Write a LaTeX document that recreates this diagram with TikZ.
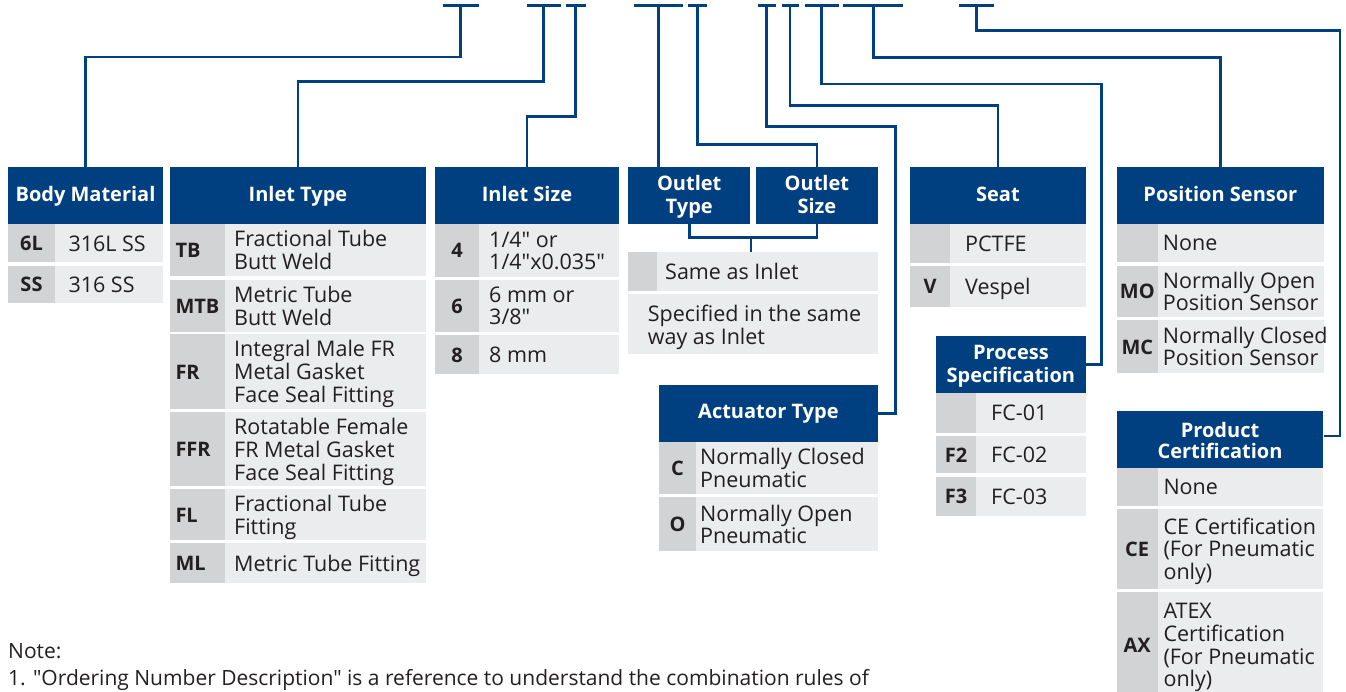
\documentclass[tikz,border=0pt]{standalone}
\usepackage{fontspec}
\setmainfont{Open Sans}
\newfontfamily\osans{Open Sans}
\definecolor{hblue}{RGB}{0,64,128}
\definecolor{rowg}{RGB}{235,236,238}
\definecolor{codeg}{RGB}{210,211,213}
\definecolor{ink}{RGB}{35,31,32}
\newcommand\mlines[1]{\begin{tabular}{@{}l@{}}#1\end{tabular}}
\newcommand\clines[1]{\begin{tabular}{@{}c@{}}#1\end{tabular}}
\newcommand\myrow[9]{%
  \fill[rowg] (#2,#5) rectangle (#4,#6);
  \fill[codeg] (#2,#5) rectangle (#3,#6);
  \node[codetxt] (#1c) at ({(#2+#3)/2},{(#5+#6)/2}) {\clines{#7}};
  \node[celltxt] (#1t) at (#8,{(#5+#6)/2}) {\mlines{#9}};
}
\tikzset{
  conn/.style={draw=hblue,line width=2.6pt},
  hdr/.style={fill=hblue,inner sep=0pt,minimum height=56.7pt},
  htxt/.style={inner sep=0pt,text=white,font=\osans\fontsize{20}{23}\selectfont\bfseries},
  celltxt/.style={anchor=west,inner sep=0pt,text=ink,font=\osans\fontsize{21.5}{22}\selectfont,yshift=-3.4pt},
  codetxt/.style={inner sep=0pt,text=ink,font=\osans\fontsize{20}{22}\selectfont\bfseries,yshift=-3.2pt},
  notetxt/.style={anchor=base west,inner sep=0pt,text=ink,font=\osans\fontsize{21}{22}\selectfont},
}
\begin{document}
\begin{tikzpicture}[x=1pt,y=-1pt]
\useasboundingbox (0,0) rectangle (1346,691);
\clip (0,0) rectangle (1346,691);

% ---------- headers ----------
\node[hdr,minimum width=155pt] (bm) at (85.5,195.6) {};
\node[htxt,yshift=-0.8pt] (bmT) at (bm.center) {\clines{Body Material}};
\node[hdr,minimum width=256pt] (it) at (298,195.6) {};
\node[htxt,yshift=-0.8pt] (itT) at (it.center) {\clines{Inlet Type}};
\node[hdr,minimum width=184pt] (is) at (527,195.6) {};
\node[htxt,yshift=-0.8pt] (isT) at (is.center) {\clines{Inlet Size}};
\node[hdr,minimum width=121.7pt] (ot) at (689.2,195.6) {};
\node[htxt,yshift=-2pt] (otT) at (ot.center) {\clines{Outlet\\Type}};
\node[hdr,minimum width=121.7pt] (os) at (816.9,195.6) {};
\node[htxt,yshift=-2pt] (osT) at (os.center) {\clines{Outlet\\Size}};
\node[hdr,minimum width=218.7pt] (at) at (768.4,413.4) {};
\node[htxt,yshift=-0.8pt] (atT) at (at.center) {\clines{Actuator Type}};
\node[hdr,minimum width=175.7pt] (seat) at (997.9,195.6) {};
\node[htxt,yshift=-0.8pt] (seatT) at (seat.center) {\clines{Seat}};
\node[hdr,minimum width=149.7pt] (ps) at (1010.9,364.4) {};
\node[htxt,yshift=-1.8pt] (psT) at (ps.center) {\clines{Process\\Specification}};
\node[hdr,minimum width=206.7pt] (pos) at (1220.4,195.6) {};
\node[htxt,yshift=-0.8pt] (posT) at (pos.center) {\clines{Position Sensor}};
\node[hdr,minimum width=206.6pt] (pc) at (1220,439.4) {};
\node[htxt,yshift=-4pt,font=\osans\fontsize{20}{21}\selectfont\bfseries] (pcT) at (pc.center) {\clines{Product\\Certification}};

% ---------- rows ----------
\myrow{bmA}{8}{55}{163}{224}{262.3}{6L}{68.3}{316L SS}
\myrow{bmB}{8}{55}{163}{266}{302.7}{SS}{68.3}{316 SS}

\myrow{itA}{170}{225}{426}{224}{276}{\makebox[44pt][l]{TB}}{234}{Fractional Tube\\Butt Weld}
\myrow{itB}{170}{225}{426}{280}{331.7}{\makebox[44pt][l]{MTB}}{234}{Metric Tube\\Butt Weld}
\myrow{itC}{170}{225}{426}{334.3}{408.7}{\makebox[44pt][l]{FR}}{234}{Integral Male FR\\Metal Gasket\\Face Seal Fitting}
\myrow{itD}{170}{225}{426}{412}{486}{\makebox[44pt][l]{FFR}}{234}{Rotatable Female\\FR Metal Gasket\\Face Seal Fitting}
\myrow{itE}{170}{225}{426}{489.3}{540.3}{\makebox[44pt][l]{FL}}{234}{Fractional Tube\\Fitting}
\myrow{itF}{170}{225}{426}{543.3}{583.3}{\makebox[44pt][l]{ML}}{234}{Metric Tube Fitting}

\myrow{isA}{435}{479}{619}{224}{276.7}{4}{489}{1/4" or\\1/4"x0.035"}
\myrow{isB}{435}{479}{619}{280}{331.7}{6}{489}{6 mm or\\3/8"}
\myrow{isC}{435}{479}{619}{335}{374}{8}{489}{8 mm}

\myrow{saiR}{628}{656.7}{877.7}{252.3}{291}{}{665}{Same as Inlet}
\fill[rowg] (628,294.3) rectangle (877.7,354.3);
\node[celltxt] (spT) at (647.7,324.3) {\mlines{Specified in the same\\way as Inlet}};
\coordinate (sai) at (751,252.3);

\myrow{atA}{659}{696}{877.7}{441.7}{494}{C}{700}{Normally Closed\\Pneumatic}
\myrow{atB}{659}{696}{877.7}{497.3}{550.7}{O}{700}{Normally Open\\Pneumatic}

\myrow{seA}{910}{950}{1085.7}{224}{262.7}{}{965}{PCTFE}
\myrow{seB}{910}{950}{1085.7}{266}{306.7}{V}{965}{Vespel}

\myrow{psA}{936}{976}{1085.7}{392.7}{432.7}{}{991}{FC-01}
\myrow{psB}{936}{976}{1085.7}{435.7}{473.3}{F2}{991}{FC-02}
\myrow{psC}{936}{976}{1085.7}{476.7}{515.7}{F3}{991}{FC-03}

\myrow{poA}{1117}{1157.7}{1323.7}{224}{262}{}{1162.7}{None}
\myrow{poB}{1117}{1157.7}{1323.7}{266}{316.7}{MO}{1162.7}{Normally Open\\Position Sensor}
\myrow{poC}{1117}{1157.7}{1323.7}{320.3}{372.7}{MC}{1162.7}{Normally Closed\\Position Sensor}

\myrow{pcA}{1116.7}{1157.7}{1323.3}{467.7}{506}{}{1163.3}{None}
\myrow{pcB}{1116.7}{1157.7}{1323.3}{508.7}{588.7}{CE}{1163.3}{CE Certification\\(For Pneumatic\\only)}
\myrow{pcC}{1116.7}{1157.7}{1323.3}{592}{698}{AX}{1163.3}{ATEX\\Certification\\(For Pneumatic\\only)}

% ---------- top stubs ----------
\coordinate (sA1) at (442.7,5.7); \coordinate (sA2) at (479,5.7); \coordinate (tA) at (460.7,5.7);
\coordinate (sB1) at (526.7,5.7); \coordinate (sB2) at (560.7,5.7); \coordinate (tB) at (543.7,5.7);
\coordinate (sC1) at (565.7,5.7); \coordinate (sC2) at (585.7,5.7); \coordinate (tC) at (575.3,5.7);
\coordinate (sD1) at (633.7,5.7); \coordinate (sD2) at (683.3,5.7); \coordinate (tD) at (658.3,5.7);
\coordinate (sE1) at (688.3,5.7); \coordinate (sE2) at (706.7,5.7); \coordinate (tE) at (697.3,5.7);
\coordinate (sF1) at (758.3,5.7); \coordinate (sF2) at (775.7,5.7); \coordinate (tF) at (766.7,5.7);
\coordinate (sG1) at (781.7,5.7); \coordinate (sG2) at (799.3,5.7); \coordinate (tG) at (790,5.7);
\coordinate (sH1) at (805,5.7);   \coordinate (sH2) at (839,5.7);   \coordinate (tH) at (821.7,5.7);
\coordinate (sI1) at (843.3,5.7); \coordinate (sI2) at (903.3,5.7); \coordinate (tI) at (873.3,5.7);
\coordinate (sJ1) at (959.3,5.7); \coordinate (sJ2) at (994,5.7);   \coordinate (tJ) at (976.7,5.7);
\foreach \s in {A,B,C,D,E,F,G,H,I,J} {\draw[conn] (s\s1) -- (s\s2);}

\coordinate (kF) at (895.7,126.7);
\coordinate (kH) at (1101.7,84);
\coordinate (kJ) at (1340,30.7);
\coordinate (kJb) at (1340,436);

% ---------- connectors ----------
\draw[conn] (tA) |- (bm.north |- 0,57) -- (bm.north);
\draw[conn] (tB) |- (it.north |- 0,81.7) -- (it.north);
\draw[conn] (tC) |- (is.north |- 0,116.3) -- (is.north);
\draw[conn] (tD) -- (tD |- ot.north);
\draw[conn] (tE) |- (os.north |- 0,144.7) -- (os.north);
\draw[conn] (tF) |- (kF) -- (kF |- at.east) -- (at.east);
\draw[conn] (tG) |- (seat.north |- 0,105.7) -- (seat.north);
\draw[conn] (tH) |- (kH) -- (kH |- ps.east) -- (ps.east);
\draw[conn] (tI) |- (pos.north |- 0,57.7) -- (pos.north);
\draw[conn] (tJ) |- (kJ) -- (kJb) -- (pc.east |- kJb);

\draw[conn] (ot.south) |- (os.south |- 0,237.3) -- (os.south);
\draw[conn] (sai) -- (sai |- 0,237.3);

% ---------- note ----------
\node[notetxt] (note1) at (8,658) {Note:};
\node[notetxt] (note2) at (8,685) {1. "Ordering Number Description" is a reference to understand the combination rules of};
\end{tikzpicture}
\end{document}
